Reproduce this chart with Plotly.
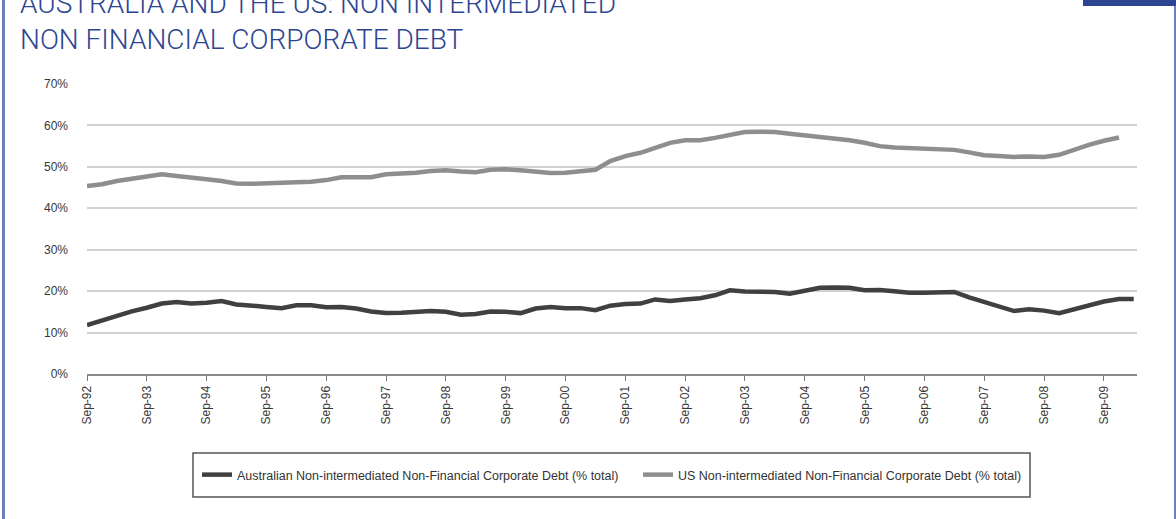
import plotly.graph_objects as go
import pandas as pd

# ---- data (% of total) ----
aus_name = "Australian Non-intermediated Non-Financial Corporate Debt (% total)"
us_name = "US Non-intermediated Non-Financial Corporate Debt (% total)"

aus_values = [11.8, 12.9, 14.2, 15.1, 16.0, 17.0, 17.4, 17.0, 17.2, 17.6,
              16.8, 16.4, 16.2, 15.9, 16.6, 16.6, 16.1, 16.2, 15.8, 15.1,
              14.7, 14.8, 15.1, 15.2, 15.0, 14.3, 14.5, 15.1, 15.0, 14.7,
              15.8, 16.2, 15.9, 15.9, 15.4, 16.5, 16.9, 17.0, 18.0, 17.6,
              18.0, 18.3, 19.0, 20.2, 19.9, 19.8, 19.8, 19.4, 20.0, 20.8,
              20.9, 20.8, 20.2, 20.3, 20.0, 19.6, 19.6, 19.6, 19.8, 18.5,
              17.3, 16.2, 15.2, 15.6, 15.3, 14.7, 15.7, 16.6, 17.5, 18.1,
              18.1]

us_values = [45.4, 45.8, 46.6, 47.1, 47.8, 48.2, 47.8, 47.3, 47.0, 46.6,
             46.0, 45.9, 46.1, 46.3, 46.3, 46.4, 46.8, 47.5, 47.4, 47.5,
             48.2, 48.3, 48.6, 49.0, 49.2, 48.9, 48.7, 49.3, 49.4, 49.2,
             48.9, 48.5, 48.6, 48.9, 49.3, 51.4, 52.6, 53.4, 54.7, 55.8,
             56.4, 56.4, 57.0, 57.8, 58.4, 58.5, 58.4, 58.0, 57.6, 57.3,
             57.0, 56.4, 55.8, 55.0, 54.7, 54.5, 54.4, 54.3, 54.1, 53.5,
             52.8, 52.6, 52.4, 52.5, 52.4, 52.9, 54.2, 55.3, 56.3, 57.1]

quarters = pd.date_range("1992-09-30", periods=len(aus_values), freq="QE")
aus_dates = list(quarters)
us_dates = list(quarters[:len(us_values)])

tick_years = list(range(1992, 2010))
tick_dates = [f"{y}-09-30" for y in tick_years]
tick_labels = [f"Sep-{str(y)[2:]}" for y in tick_years]

y_ticks = [0, 10, 20, 30, 40, 50, 60, 70]
y_labels = [f"{v}%" for v in y_ticks]

# ---- layout helpers (pixel -> paper) ----
W, H = 1176, 519
L, R, T, B = 87, 1137, 84, 374


def px(x):
    return (x - L) / (R - L)


def py(y):
    return (B - y) / (B - T)


BLUE = "#2c4592"
FONT = "Liberation Sans, Arial, sans-serif"

fig = go.Figure()
fig.add_trace(go.Scatter(x=aus_dates, y=aus_values, mode="lines", name=aus_name,
                         line=dict(color="#404040", width=4.5)))
fig.add_trace(go.Scatter(x=us_dates, y=us_values, mode="lines", name=us_name,
                         line=dict(color="#8e8e8e", width=4.5)))

fig.update_layout(
    width=W, height=H,
    margin=dict(l=L, r=W - R, t=T, b=H - B),
    paper_bgcolor="white", plot_bgcolor="white",
    showlegend=True,
    legend=dict(orientation="h", x=px(197), xanchor="left", y=py(475), yanchor="middle",
                font=dict(family=FONT, size=12.5, color="#333333"),
                bgcolor="rgba(0,0,0,0)", borderwidth=0,
                entrywidth=396, entrywidthmode="pixels"),
    xaxis=dict(type="date", range=["1992-09-30", "2010-04-20"],
               tickmode="array", tickvals=tick_dates, ticktext=tick_labels,
               tickangle=-90, ticks="outside", ticklen=5, tickwidth=1, tickcolor="#777777",
               showline=True, linecolor="#8a8a8a", linewidth=2,
               showgrid=False, zeroline=False,
               tickfont=dict(family=FONT, size=12, color="#383838")),
    yaxis=dict(range=[0, 70], tickmode="array", tickvals=y_ticks, ticktext=y_labels,
               showgrid=True, gridcolor="#d2d2d2", gridwidth=2, zeroline=False,
               showline=False, ticks="", ticklabelstandoff=18,
               tickfont=dict(family=FONT, size=12, color="#383838")),
    annotations=[
        dict(text="AUSTRALIA AND THE US: NON INTERMEDIATED", xref="paper", yref="paper",
             x=px(18), y=py(4), xanchor="left", yanchor="middle", showarrow=False,
             font=dict(family="Roboto, sans-serif", size=28, color=BLUE, weight=300)),
        dict(text="NON FINANCIAL CORPORATE DEBT", xref="paper", yref="paper",
             x=px(18), y=py(39), xanchor="left", yanchor="middle", showarrow=False,
             font=dict(family="Roboto, sans-serif", size=28, color=BLUE, weight=300)),
    ],
    shapes=[
        # legend box
        dict(type="rect", xref="paper", yref="paper", x0=px(193), x1=px(1030),
             y0=py(453), y1=py(497), line=dict(color="#555555", width=1.5), layer="below"),
        # left border
        dict(type="line", xref="paper", yref="paper", x0=px(3.5), x1=px(3.5),
             y0=py(0), y1=py(H), line=dict(color="#6d7dbd", width=3)),
        # right border
        dict(type="line", xref="paper", yref="paper", x0=px(1175), x1=px(1175),
             y0=py(0), y1=py(H), line=dict(color="#6d7dbd", width=2)),
        # top-right bar
        dict(type="rect", xref="paper", yref="paper", x0=px(1083), x1=px(1177),
             y0=py(-2), y1=py(6), line=dict(width=0), fillcolor=BLUE),
    ],
)

fig.write_html(
    "out.html",
    config={"displayModeBar": False},
    post_script="document.body.style.margin='0';document.body.style.overflow='hidden';",
)
